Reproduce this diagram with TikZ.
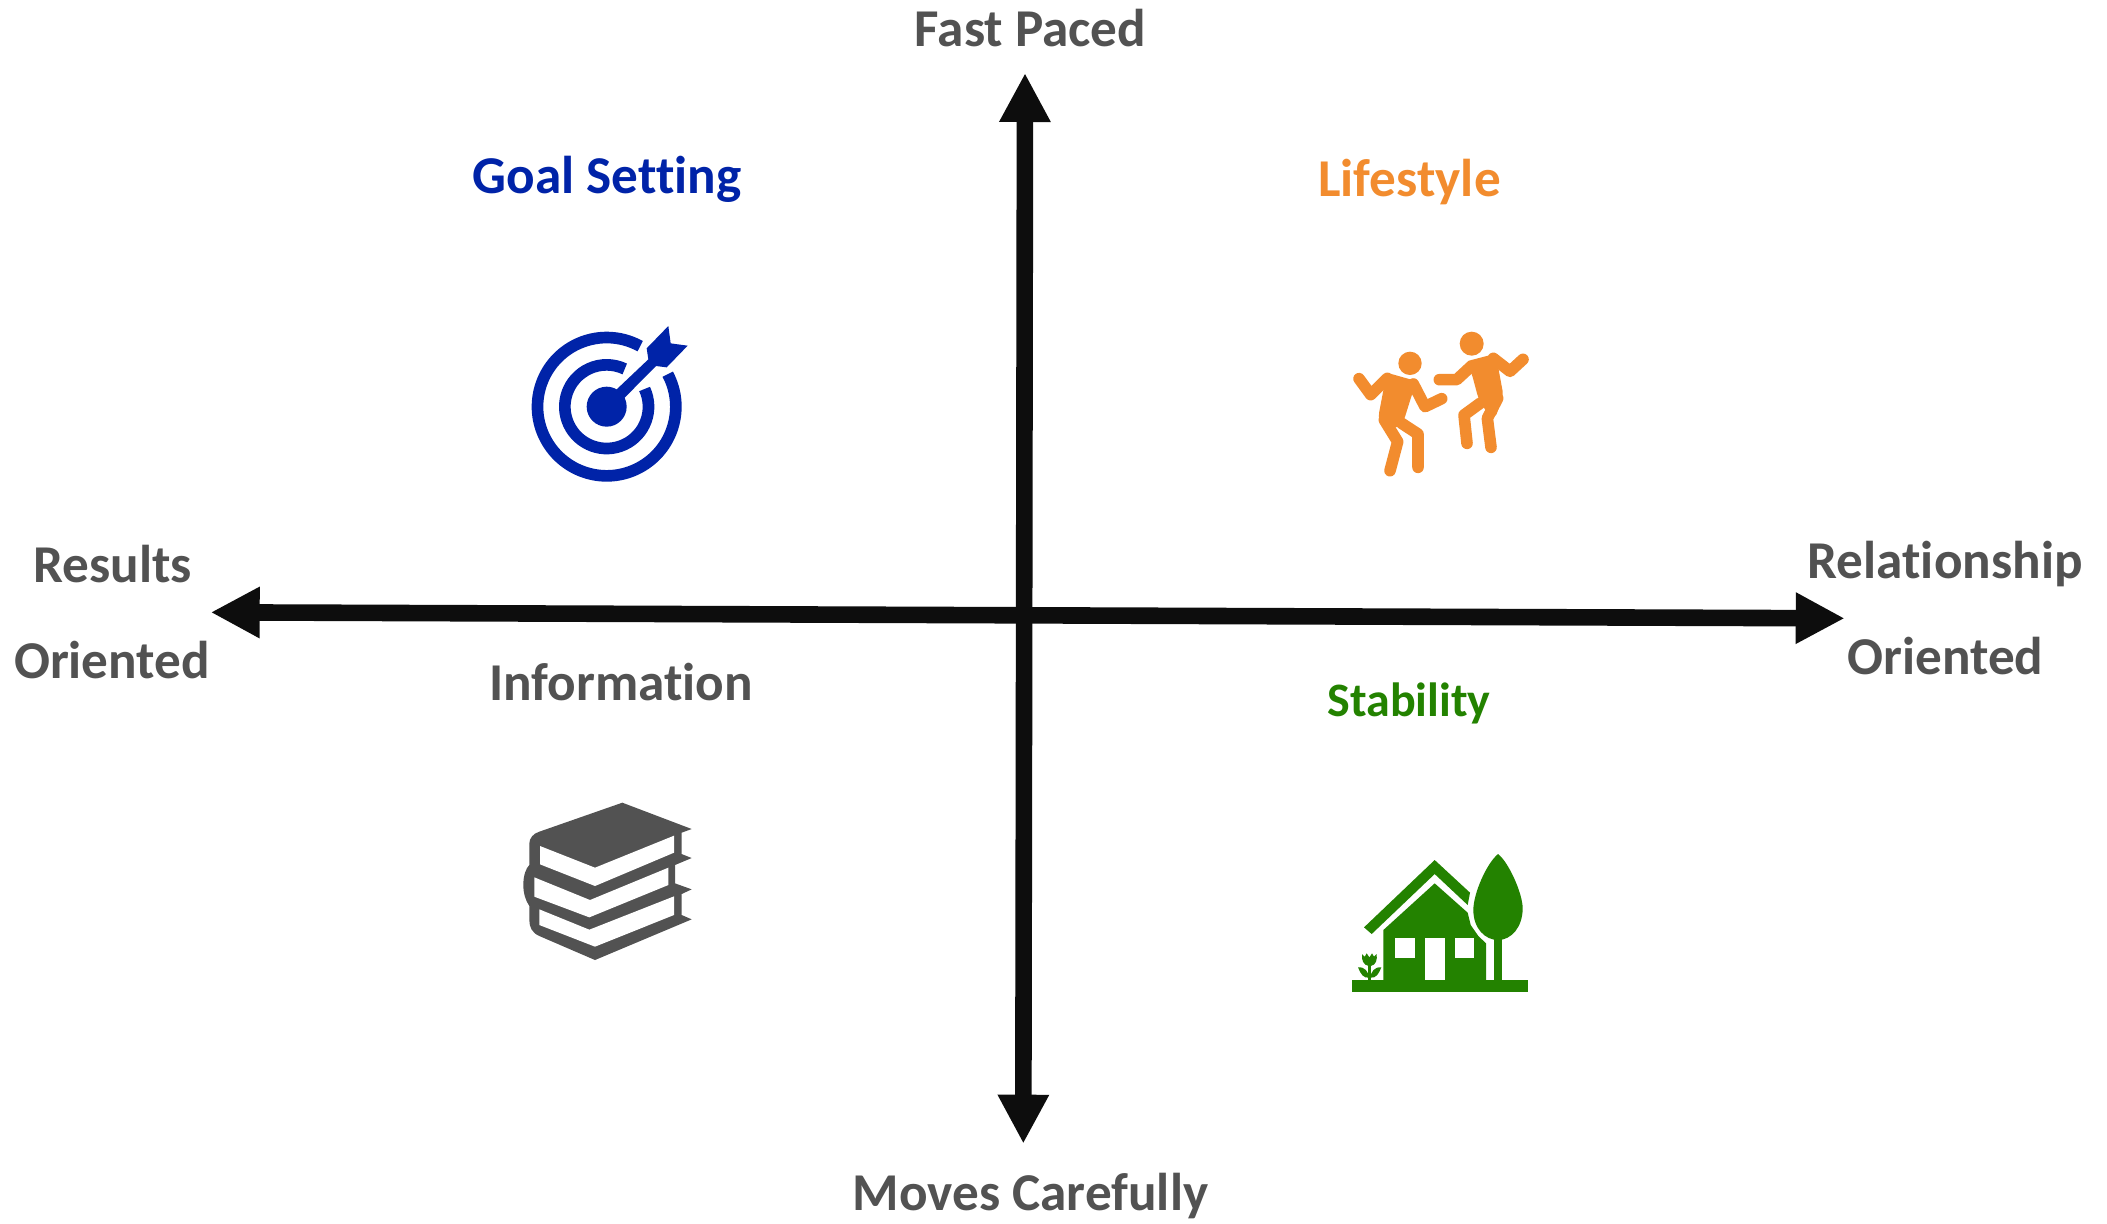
\documentclass[tikz,border=0pt]{standalone}
\usepackage{fontspec}
\setmainfont[Ligatures=NoCommon]{Carlito}
\usetikzlibrary{arrows.meta}
\definecolor{axisblack}{HTML}{0D0D0D}
\definecolor{labelgray}{HTML}{525252}
\definecolor{goalblue}{HTML}{0023A8}
\definecolor{lifeorange}{HTML}{F28C2E}
\definecolor{homegreen}{HTML}{238200}
\tikzset{
  axisline/.style={draw=axisblack,line width=8.3pt,{Triangle[length=24.5pt,width=24pt]}-{Triangle[length=24.5pt,width=24pt]}},
  axislabel/.style={anchor=base,inner sep=0pt,font=\bfseries\fontsize{26.6}{26.6}\selectfont,text=labelgray},
  quadlabel/.style={anchor=base,inner sep=0pt,font=\bfseries\fontsize{26.6}{26.6}\selectfont},
  limb/.style={draw=lifeorange,line width=5.8pt,line cap=round,line join=round},
  ring/.style={draw=goalblue,line width=5.83pt},
}
\begin{document}
\begin{tikzpicture}[x=0.5pt,y=-0.5pt]
\useasboundingbox (0,0) rectangle (2107,1223);
\fill[white] (0,0) rectangle (2107,1223);
% axes
\coordinate (top) at (1025,73);
\coordinate (bottom) at (1023.3,1143.7);
\coordinate (left) at (210.7,612.3);
\coordinate (right) at (1844.7,618.3);
\draw[axisline] (bottom) -- (top);
\draw[axisline] (left) -- (right);
% axis labels
\node[axislabel] (fast) at (1030.5,46.5) {Fast Paced};
\node[axislabel] (moves) at (1030.5,1210.5) {Moves Carefully};
\node[axislabel] (res) at (112.5,582.5) {Results};
\node[axislabel] (orl) at (112,678.5) {Oriented};
\node[axislabel] (rel) at (1945,578.5) {Relationship};
\node[axislabel] (orr) at (1945.5,674.2) {Oriented};
% quadrant labels
\node[quadlabel,text=goalblue] (goal) at (607,193.5) {Goal Setting};
\node[quadlabel,text=lifeorange] (life) at (1409.5,196.5) {Lifestyle};
\node[quadlabel,text=labelgray] (info) at (621,700.5) {Information};
\node[quadlabel,text=homegreen,font=\bfseries\fontsize{24}{24}\selectfont] (stab) at (1409,716.5) {Stability};
% target icon
\begin{scope}[shift={(500,300)},scale=1/3]
  \draw[ring] (320,320) ++(-28:207.5) arc (-28:299:207.5);
  \draw[ring] (320,320) ++(-25:125.5) arc (-25:295.6:125.5);
  \fill[goalblue] (320,320) circle (60);
  \fill[goalblue] (320,320) -- (350,268) -- (445,178) -- (440,145) -- (505,78) -- (512,130) -- (563,137) -- (500,202) -- (468,198) -- (372,295) -- cycle;
\end{scope}
% dancers icon
\begin{scope}[shift={(1330,310)},scale=1/3]
  \fill[lifeorange] (240,160) circle (35);
  \fill[lifeorange] (425,101) circle (36);
  \fill[lifeorange,rounded corners=2pt] (170,188) -- (262,214) -- (245,256) -- (222,330) -- (205,355) -- (150,338) -- (145,320) -- cycle;
  \fill[lifeorange,rounded corners=2pt] (405,155) -- (497,131) -- (520,255) -- (495,325) -- (465,300) -- (445,265) -- (425,190) -- cycle;
  \draw[limb] (87,206) -- (122,254) -- (172,205);
  \draw[limb] (250,222) -- (285,290) -- (335,266);
  \draw[limb] (163,330) -- (203,395) -- (180,482);
  \draw[limb] (215,340) -- (264,372) -- (264,472);
  \draw[limb] (328,209) -- (380,209) -- (420,172);
  \draw[limb] (490,145) -- (540,184) -- (579,148);
  \draw[limb] (450,280) -- (402,315) -- (411,400);
  \draw[limb] (503,265) -- (472,325) -- (483,412);
\end{scope}
% books icon
\begin{scope}[shift={(500,780)},scale=1/3]
  \fill[labelgray] (367,68) -- (575,147) -- (545,158) -- (545,222) -- (575,234) -- (525,255) -- (525,310) -- (575,328) -- (545,342) -- (545,405) -- (575,418) -- (285,540) -- (118,468) .. controls (95,458) and (88,440) .. (88,420) -- (88,378) .. controls (76,360) and (70,340) .. (70,315) .. controls (70,285) and (78,265) .. (88,255) -- (88,190) .. controls (88,175) and (100,160) .. (118,155) -- cycle;
  \fill[white] (120,198) -- (285,263) -- (522,167) -- (522,218) -- (285,318) -- (120,253) -- cycle;
  \fill[white] (103,292) -- (270,360) -- (505,263) -- (505,315) -- (268,412) -- (103,350) -- cycle;
  \fill[white] (118,388) -- (268,449) -- (522,349) -- (522,405) -- (285,500) -- (118,435) -- cycle;
\end{scope}
% house icon
\begin{scope}[shift={(1330,830)},scale=1/3]
  \fill[homegreen] (65,450) rectangle (593,485);
  \fill[homegreen] (102,292) -- (314,90) -- (420,188) -- (413,225) -- (314,132) -- (125,312) -- cycle;
  \fill[homegreen] (160,300) -- (314,160) -- (413,248) -- (422,285) -- (445,318) -- (468,340) -- (468,450) -- (160,450) -- cycle;
  \fill[white] (196,325) rectangle (255,385);
  \fill[white] (374,325) rectangle (433,385);
  \fill[white] (285,325) rectangle (344,450);
  \fill[homegreen] (504,72) .. controls (470,100) and (430,190) .. (430,240) .. controls (430,295) and (465,330) .. (504,330) .. controls (545,330) and (578,290) .. (578,235) .. controls (578,190) and (535,95) .. (504,72) -- cycle;
  \fill[homegreen] (492,320) rectangle (516,450);
  \fill[homegreen] (96,372) -- (104,380) -- (110,370) -- (118,382) -- (126,370) -- (132,380) -- (140,372) .. controls (142,390) and (138,405) .. (122,408) -- (116,408) .. controls (100,405) and (94,390) .. (96,372) -- cycle;
  \fill[homegreen] (115,405) rectangle (123,450);
  \fill[homegreen] (84,412) .. controls (105,410) and (115,425) .. (117,443) .. controls (100,445) and (92,432) .. (84,412) -- cycle;
  \fill[homegreen] (154,412) .. controls (133,410) and (123,425) .. (121,443) .. controls (138,445) and (146,432) .. (154,412) -- cycle;
\end{scope}
\end{tikzpicture}
\end{document}
